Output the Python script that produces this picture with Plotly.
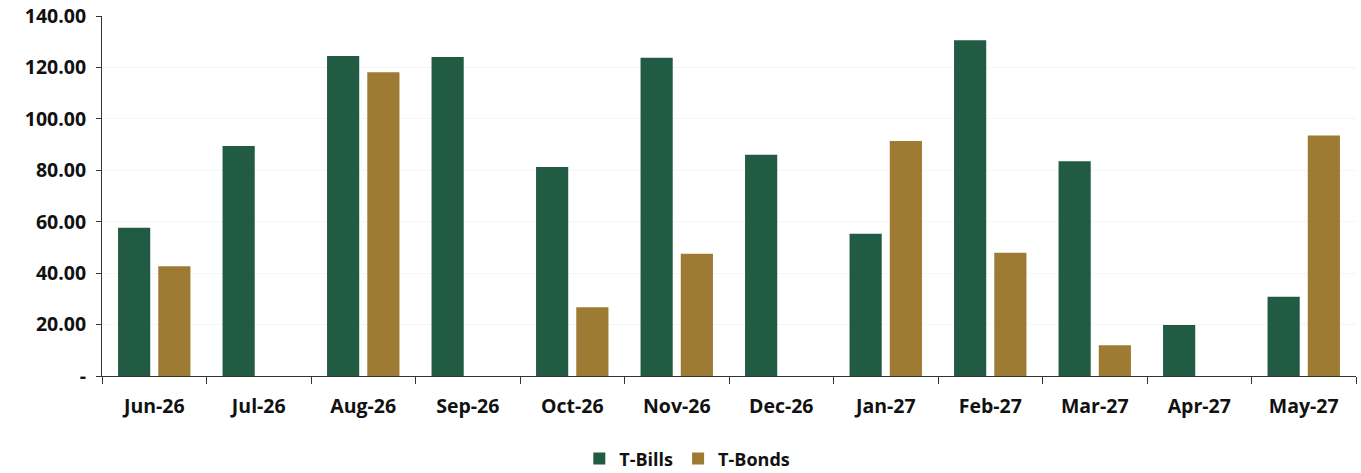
import plotly.graph_objects as go

months = ["Jun-26", "Jul-26", "Aug-26", "Sep-26", "Oct-26", "Nov-26",
          "Dec-26", "Jan-27", "Feb-27", "Mar-27", "Apr-27", "May-27"]
t_bills = [57.7, 89.4, 124.4, 124.1, 81.3, 123.8, 86.0, 55.3, 130.6, 83.5, 19.8, 30.8]
t_bonds = [42.7, None, 118.1, None, 26.7, 47.5, None, 91.4, 47.9, 12.0, None, 93.5]

tick_vals = [0, 20, 40, 60, 80, 100, 120, 140]
tick_text = ["-", "20.00", "40.00", "60.00", "80.00", "100.00", "120.00", "140.00"]

font_family = "'Open Sans', Lato, sans-serif"

fig = go.Figure()
fig.add_trace(go.Bar(x=months, y=t_bills, name="T-Bills", marker=dict(color="#215B43", line=dict(width=0))))
fig.add_trace(go.Bar(x=months, y=t_bonds, name="T-Bonds", marker=dict(color="#9E7B33", line=dict(width=0))))

fig.update_layout(
    width=1361, height=473,
    margin=dict(l=102, r=5, t=16, b=97, autoexpand=False),
    paper_bgcolor="white", plot_bgcolor="white",
    barmode="group", bargap=0.23, bargroupgap=0.2,
    font=dict(family=font_family, size=18, color="#111111"),
    legend=dict(orientation="h", xref="container", yref="container",
                x=0.505, xanchor="center", y=0.03, yanchor="middle",
                font=dict(size=18, family=font_family, color="#111111", weight="bold"),
                itemwidth=30, tracegroupgap=0),
    showlegend=True,
)
fig.update_xaxes(
    showline=True, linecolor="#333333", linewidth=1,
    ticks="outside", tickson="boundaries", ticklen=7, tickcolor="#333333",
    ticklabelstandoff=13,
    tickfont=dict(size=19.5, family=font_family, color="#111111", weight="bold"),
    showgrid=False, automargin=False,
)
fig.update_yaxes(
    range=[0, 140], tickvals=tick_vals, ticktext=tick_text,
    showline=True, linecolor="#333333", linewidth=1,
    ticks="outside", ticklen=5, tickcolor="#333333", ticklabelstandoff=6,
    ticklabeloverflow="allow",
    tickfont=dict(size=19.5, family=font_family, color="#111111", weight="bold"),
    showgrid=True, gridcolor="#F6F6F6", gridwidth=1,
    zeroline=False, automargin=False,
)
fig.write_html("out.html", config={"displayModeBar": False},
               post_script="document.body.style.margin='0';")
